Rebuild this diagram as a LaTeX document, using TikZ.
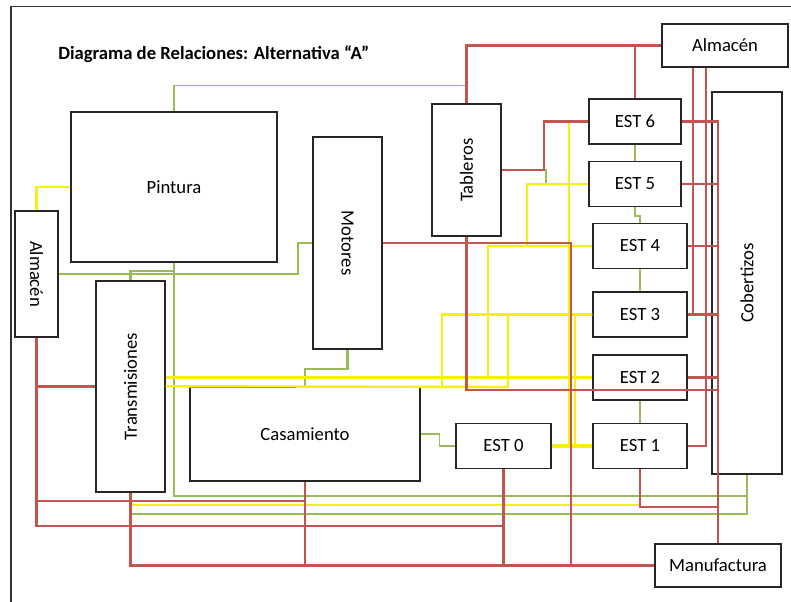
\documentclass[tikz,border=0pt]{standalone}
\usepackage{fontspec}
\setmainfont{Carlito}
\usetikzlibrary{calc}
\definecolor{wred}{RGB}{196,84,80}
\definecolor{wgreen}{RGB}{155,187,89}
\definecolor{wyel}{RGB}{245,240,20}

\begin{document}
\begin{tikzpicture}[x=0.75pt,y=-0.75pt,font=\fontsize{14}{16}\selectfont]
\tikzset{
  blk/.style={draw=black!85,line width=1.1pt,inner sep=0pt},
  est/.style={blk,minimum width=70.5pt,minimum height=33.5pt},
  rd/.style={draw=wred,line width=1.6pt},
  gr/.style={draw=wgreen,line width=1.6pt},
  yl/.style={draw=wyel,line width=1.8pt},
  frm/.style={draw=black!80,line width=1pt}
}
\useasboundingbox (0,0) rectangle (791,602);
\draw[frm] (11,602) -- (11,6.7) -- (791,6.7);

\node[anchor=base west,inner sep=0pt,font=\fontsize{14}{16}\selectfont\bfseries] (title) at (58,59.3) {Diagrama de Relaciones: Alternativa “A”};

\node[blk,minimum width=154.5pt,minimum height=112.5pt] (pin) at (174,187) {Pintura};
\node[blk,minimum width=32.25pt,minimum height=94.5pt] (almL) at (36.5,274) {\rotatebox{-90}{Almacén}};
\node[blk,minimum width=51.75pt,minimum height=158.25pt] (trn) at (130.5,386.5) {\rotatebox{90}{Transmisiones}};
\node[blk,minimum width=51.75pt,minimum height=159pt] (mot) at (347.5,243) {\rotatebox{-90}{Motores}};
\node[blk,minimum width=51.75pt,minimum height=99pt] (tab) at (466.5,170) {\rotatebox{90}{Tableros}};
\node[blk,minimum width=172.5pt,minimum height=70.5pt] (cas) at (305,434) {Casamiento};
\node[blk,minimum width=94.5pt,minimum height=32.25pt] (almR) at (725,45.5) {Almacén};
\node[blk,minimum width=52.5pt,minimum height=286.5pt] (cob) at (747,283) {\rotatebox{90}{Cobertizos}};
\node[blk,minimum width=94.5pt,minimum height=32.25pt] (man) at (718,565.5) {Manufactura};

\node[est,minimum width=69pt] (e6) at (635,121.5) {EST 6};
\node[est,minimum width=69pt] (e5) at (635,184) {EST 5};
\node[est] (e4) at (640,246) {EST 4};
\node[est] (e3) at (640,314.5) {EST 3};
\node[est] (e2) at (640,377.5) {EST 2};
\node[est] (e1) at (640,446) {EST 1};
\node[est,minimum width=71.25pt] (e0) at (503.5,446) {EST 0};

% free ends of the wires
\coordinate (ja) at (442,387);
\coordinate (jb) at (488,377.5);
\coordinate (jc) at (527,246);
\coordinate (jd) at (569,446);
\coordinate (je) at (575,446);

% green
\draw[gr,line width=1.1pt] (pin.north) -- ++(0,-26) -| (tab.north);
\draw[gr] (almL.east) -- (298,274) |- (mot.west);
\draw[gr] (trn.north) -- ++(0,-9) -| (pin.south);
\draw[gr] (pin.south) -- (174,496) -| (cob.south);
\draw[gr] (trn.south) -- ++(0,21) -| (cob.south);
\draw[gr] (mot.south) -- ++(0,19) -| (cas.north);
\draw[gr,line width=1.1pt] (cas.east) -- ++(19,0) |- (e0.west);
\draw[gr] (tab.east) -- (546,170) |- (e5.west);
\draw[gr,line width=1.1pt] (e6.south) -- (e5.north);
\draw[gr,line width=1.1pt] (e5.south) -- ++(0,9) -| (e4.north);
\draw[gr,line width=1.1pt] (e4.south) -- (e3.north);
\draw[gr,line width=1.1pt] (e2.south) -- (e1.north);

% yellow
\draw[yl] (pin.west) -| (almL.north);
\draw[yl] (trn.east |- e2.west) -- (e2.west);
\draw[yl] (trn.east |- cas.north) -- (508,387) |- (e3.west);
\draw[yl] (e3.west) -| (ja);
\draw[yl] (e4.west) -| (jb);
\draw[yl] (e5.west) -| (jc);
\draw[yl] (e6.west) -| (jd);
\draw[yl] (e3.west) -| (je);
\draw[yl,line width=2.4pt] (e0.east) -- (e1.west);
\draw[yl] (trn.south) -- ++(0,12) -| (e1.south);

% red
\draw[rd] (tab.north) |- (almR.west);
\draw[rd] (e6.north) -- (e6.north |- almR.west);
\draw[rd] (tab.east) -- (544,170) |- (e6.west);
\draw[rd] (mot.east) -- (571,243) |- (man.west);
\draw[rd] (tab.south) -- ++(0,153) -| (man.north);
\draw[rd] ($(almR.south)+(-32,0)$) |- (e3.east);
\draw[rd] ($(almR.south)+(-19,0)$) |- (e1.east);
\draw[rd] (e6.east) -| (man.north);
\foreach \s in {e5,e4,e3,e2}
  \draw[rd] (\s.east) -- (\s.east -| man.north);
\draw[rd] (e1.south) -- ++(0,38) -| (man.north);
\draw[rd] (almL.south) -- (36.5,526) -| (e0.south);
\draw[rd] (almL.south |- trn.west) -- (trn.west);
\draw[rd] (almL.south) -- (36.5,501) -| (cas.south);
\draw[rd] (cas.south) |- (man.west);
\draw[rd] (trn.south) |- (man.west);
\draw[rd] (e0.south) |- (man.west);
\end{tikzpicture}
\end{document}
